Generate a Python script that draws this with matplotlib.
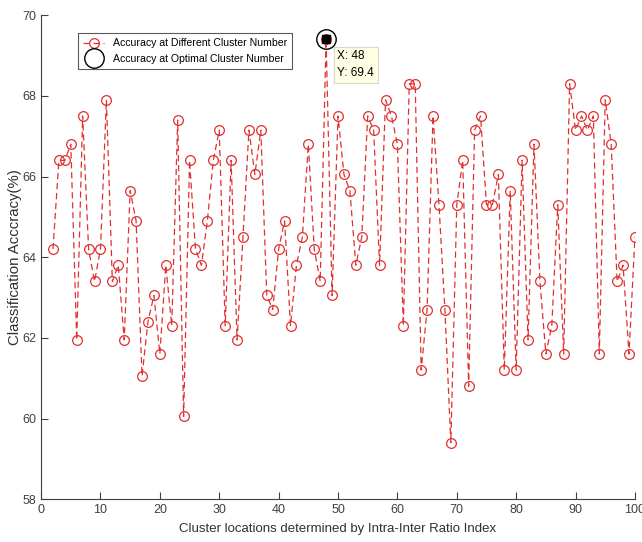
import numpy as np
import matplotlib.pyplot as plt

plt.rcParams['font.family'] = ['Liberation Sans', 'DejaVu Sans']

# Cluster number (x) and classification accuracy (y)
clusters = np.arange(2, 101)
accuracy = [64.2, 66.4, 66.4, 66.8, 61.95, 67.5, 64.2, 63.4, 64.2, 67.9,
            63.4, 63.8, 61.95, 65.65, 64.9, 61.05, 62.4, 63.05, 61.6, 63.8,
            62.3, 67.4, 60.05, 66.4, 64.2, 63.8, 64.9, 66.4, 67.15, 62.3,
            66.4, 61.95, 64.5, 67.15, 66.05, 67.15, 63.05, 62.7, 64.2, 64.9,
            62.3, 63.8, 64.5, 66.8, 64.2, 63.4, 69.4, 63.05, 67.5, 66.05,
            65.65, 63.8, 64.5, 67.5, 67.15, 63.8, 67.9, 67.5, 66.8, 62.3,
            68.3, 68.3, 61.2, 62.7, 67.5, 65.3, 62.7, 59.4, 65.3, 66.4,
            60.8, 67.15, 67.5, 65.3, 65.3, 66.05, 61.2, 65.65, 61.2, 66.4,
            61.95, 66.8, 63.4, 61.6, 62.3, 65.3, 61.6, 68.3, 67.15, 67.5,
            67.15, 67.5, 61.6, 67.9, 66.8, 63.4, 63.8, 61.6, 64.5]

best_x = 48
best_y = 69.4

fig = plt.figure(figsize=(6.42, 5.42), dpi=100)
ax = fig.add_axes([0.064, 0.079, 0.925, 0.893])

ax.plot(clusters, accuracy, '--o', color='#e03030', lw=0.9, dashes=(5, 3),
        ms=7, mfc='none', mew=0.9, label='Accuracy at Different Cluster Number')
ax.plot(best_x, best_y, 'o', color='black', ms=14, mfc='none', mew=1.0,
        label='Accuracy at Optimal Cluster Number')
ax.plot(best_x, best_y, 's', color='black', ms=6)

# data tip
ax.annotate(f'X: {best_x}\nY: {best_y}', xy=(best_x, best_y), xytext=(8, -8),
            textcoords='offset points', ha='left', va='top', fontsize=8.5,
            linespacing=1.5,
            bbox=dict(boxstyle='square,pad=0.3', fc='#ffffe6', ec='#d8d8c8', lw=0.8))

ax.set_xlim(0, 100)
ax.set_ylim(58, 70)
ax.set_xticks(np.arange(0, 101, 10))
ax.set_yticks(np.arange(58, 71, 2))
ax.tick_params(direction='in', length=5, labelsize=9, colors='#404040', width=0.8)
for s in ['top', 'right']:
    ax.spines[s].set_visible(False)
for s in ['left', 'bottom']:
    ax.spines[s].set_color('#404040')
    ax.spines[s].set_linewidth(0.8)

ax.set_xlabel('Cluster locations determined by Intra-Inter Ratio Index',
              fontsize=9.5, color='#303030', labelpad=5)
ax.set_ylabel('Classification Acccracy(%)', fontsize=10.8, color='#303030', labelpad=0)

leg = ax.legend(loc='upper left', bbox_to_anchor=(0.062, 0.963), fontsize=7.6,
                frameon=True, fancybox=False, edgecolor='#303030',
                handlelength=2.0, borderpad=0.5, labelspacing=0.5,
                borderaxespad=0)
leg.get_frame().set_linewidth(0.8)

fig.savefig('out.png', dpi=100)
